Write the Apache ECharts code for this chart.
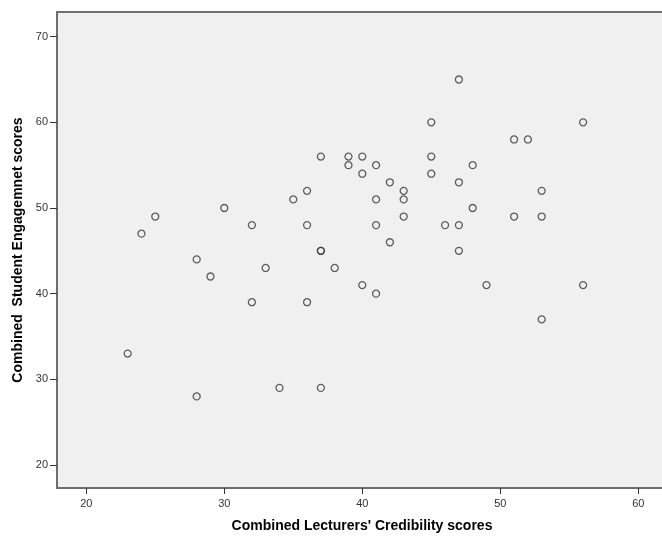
<!DOCTYPE html>
<html>
<head>
<meta charset="utf-8">
<script src="https://cdn.jsdelivr.net/npm/echarts@6/dist/echarts.min.js"></script>
<style>html,body{margin:0;padding:0;background:#fff;overflow:hidden}#c{width:662px;height:537px}</style>
</head>
<body>
<div id="c"></div>
<script>
const credibility = [23,24,25,28,28,29,30,32,32,33,34,35,36,36,36,37,37,37,37,38,39,39,40,40,40,41,41,41,41,42,42,43,43,43,45,45,45,46,47,47,47,47,48,48,49,51,51,52,53,53,53,56,56];
const engagement  = [33,47,49,44,28,42,50,48,39,43,29,51,52,48,39,56,45,45,29,43,56,55,56,54,41,55,51,48,40,53,46,52,51,49,60,56,54,48,65,53,48,45,55,50,41,58,49,58,52,49,37,60,41];
const xTicks = [20,30,40,50,60];
const yTicks = [20,30,40,50,60,70];
const xTitle = "Combined Lecturers' Credibility scores";
const yTitle = "Combined  Student Engagemnet scores";

const points = credibility.map((v, i) => [v, engagement[i]]);
const chart = echarts.init(document.getElementById('c'), null, {renderer: 'canvas'});
const font = 'Liberation Sans, Arial, sans-serif';
chart.setOption({
  animation: false,
  grid: {left: 57, width: 610, top: 12, bottom: 49, outerBoundsMode: 'none', containLabel: false, show: true, backgroundColor: '#f0f0f0', borderColor: '#6e6e6e', borderWidth: 2},
  xAxis: {
    type: 'value', min: 17.88, max: 62.08,
    name: xTitle, nameLocation: 'middle', nameGap: 31,
    nameTextStyle: {fontFamily: font, fontWeight: 'bold', fontSize: 14, color: '#000'},
    axisLine: {show: false},
    splitLine: {show: false},
    axisTick: {show: true, customValues: xTicks, length: 6, lineStyle: {color: '#333', width: 1}},
    axisLabel: {customValues: xTicks, margin: 10, fontFamily: font, fontSize: 11, color: '#333'}
  },
  yAxis: {
    type: 'value', min: 17.31, max: 72.88,
    name: yTitle, nameLocation: 'middle', nameGap: 32,
    nameTextStyle: {fontFamily: font, fontWeight: 'bold', fontSize: 14, color: '#000'},
    axisLine: {show: false},
    splitLine: {show: false},
    axisTick: {show: true, customValues: yTicks, length: 7, lineStyle: {color: '#333', width: 1}},
    axisLabel: {customValues: yTicks, margin: 9, fontFamily: font, fontSize: 11, color: '#333'}
  },
  series: [{
    type: 'scatter',
    data: points,
    symbol: 'circle',
    symbolSize: 7,
    itemStyle: {color: 'rgba(0,0,0,0)', borderColor: '#3a3a3a', borderWidth: 1.3}
  }]
});
</script>
</body>
</html>
